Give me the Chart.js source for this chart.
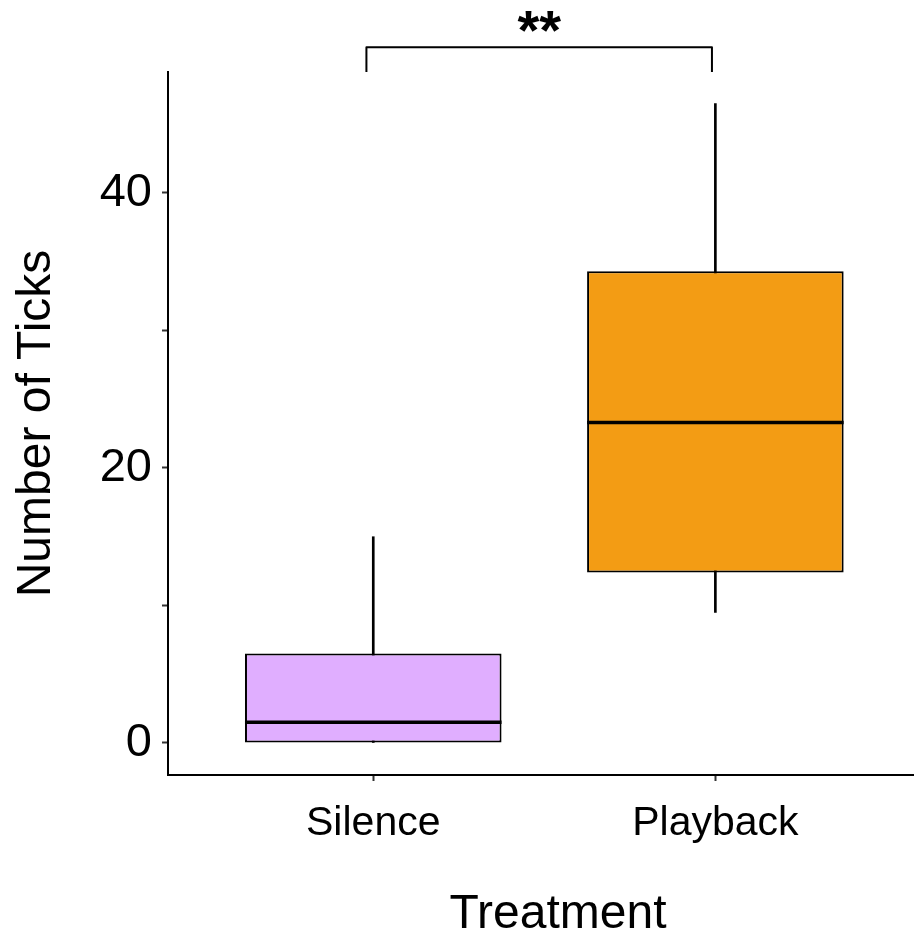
<!DOCTYPE html>
<html>
<head>
<meta charset="utf-8">
<title>Number of Ticks by Treatment</title>
<script src="https://cdn.jsdelivr.net/npm/chart.js@4/dist/chart.umd.min.js"></script>
<style>
  html, body { margin: 0; padding: 0; background: #fff; }
  canvas { display: block; }
</style>
</head>
<body>
<canvas id="boxChart" width="914" height="939"></canvas>
<script>
// Box plot summary
const categories = ['Silence', 'Playback'];
const xPositions = [1, 2];
const whiskerLow = [0, 9.5];
const q1 = [0, 12.4];
const median = [1.5, 23.3];
const q3 = [6.5, 34.3];
const whiskerHigh = [15, 46.5];
const boxColors = ['#E0AEFF', '#F39C14'];

// y axis
const yTicks = [0, 10, 20, 30, 40];
const yLabels = [0, 20, 40];

// significance bracket
const bracketX = [0.98, 1.99];
const bracketTop = 50.6;
const bracketFoot = 48.8;
const bracketText = '**';
const bracketTextY = 51.6;

const FONT = "'Liberation Sans', Arial, Helvetica, sans-serif";
const PANEL_OVERHANG = 34; // original figure is cropped: panel runs past right edge

// let the x panel run past the canvas edge, like the cropped original
const overhang = {
  id: 'overhang',
  afterLayout(chart) {
    const xs = chart.scales.x;
    xs.right += PANEL_OVERHANG;
    xs.width += PANEL_OVERHANG;
    chart.chartArea.right += PANEL_OVERHANG;
    chart.chartArea.width += PANEL_OVERHANG;
    xs.configure();
  }
};

// draw median bars + significance bracket on top of boxes
const boxExtras = {
  id: 'boxExtras',
  afterDatasetsDraw(chart) {
    const ctx = chart.ctx;
    const xs = chart.scales.x, ys = chart.scales.y;
    const meta = chart.getDatasetMeta(1);
    ctx.save();
    ctx.strokeStyle = '#000';
    ctx.lineWidth = 3.5;
    meta.data.forEach((bar, i) => {
      const y = ys.getPixelForValue(median[i]);
      ctx.beginPath();
      ctx.moveTo(bar.x - bar.width / 2, y);
      ctx.lineTo(bar.x + bar.width / 2, y);
      ctx.stroke();
    });

    // bracket
    const xa = xs.getPixelForValue(bracketX[0]);
    const xb = xs.getPixelForValue(bracketX[1]);
    const yt = ys.getPixelForValue(bracketTop);
    const yf = ys.getPixelForValue(bracketFoot);
    ctx.lineWidth = 2;
    ctx.lineJoin = 'round';
    ctx.beginPath();
    ctx.moveTo(xa, yf);
    ctx.lineTo(xa, yt);
    ctx.lineTo(xb, yt);
    ctx.lineTo(xb, yf);
    ctx.stroke();
    ctx.fillStyle = '#000';
    ctx.font = 'bold 56px ' + FONT;
    ctx.textAlign = 'center';
    ctx.textBaseline = 'middle';
    ctx.fillText(bracketText, (xa + xb) / 2, ys.getPixelForValue(bracketTextY));
    ctx.restore();
  }
};

const ctx = document.getElementById('boxChart').getContext('2d');
new Chart(ctx, {
  type: 'bar',
  data: {
    labels: categories,
    datasets: [
      {
        // whiskers
        data: xPositions.map((x, i) => ({ x: x, y: [whiskerLow[i], whiskerHigh[i]] })),
        backgroundColor: '#000',
        borderWidth: 0,
        barThickness: 2,
        grouped: false,
        order: 2
      },
      {
        // boxes
        data: xPositions.map((x, i) => ({ x: x, y: [q1[i], q3[i]] })),
        backgroundColor: boxColors,
        borderColor: '#000',
        borderWidth: 2,
        borderSkipped: false,
        barPercentage: 0.75,
        categoryPercentage: 1,
        grouped: false,
        order: 1
      }
    ]
  },
  options: {
    responsive: false,
    animation: false,
    layout: { padding: { top: 72, right: 0, left: 0, bottom: 0 } },
    plugins: {
      legend: { display: false },
      tooltip: { enabled: false }
    },
    scales: {
      x: {
        type: 'linear',
        min: 0.4,
        max: 2.68,
        offset: false,
        afterBuildTicks: s => { s.ticks = xPositions.map(v => ({ value: v })); },
        afterFit: s => { s.height = 164; },
        ticks: {
          autoSkip: false,
          maxRotation: 0,
          padding: 18,
          color: '#000',
          font: { family: FONT, size: 41 },
          callback: v => categories[xPositions.indexOf(v)] || ''
        },
        grid: { offset: false, drawOnChartArea: false, drawTicks: true, tickLength: 6, tickColor: '#333', tickWidth: 2 },
        border: { display: true, color: '#000', width: 2 },
        title: {
          display: true,
          text: 'Treatment',
          color: '#000',
          font: { family: FONT, size: 48, lineHeight: 1 },
          padding: { top: 0, bottom: 0 }
        }
      },
      y: {
        min: -2.33,
        max: 48.8,
        afterBuildTicks: s => { s.ticks = yTicks.map(v => ({ value: v })); },
        afterFit: s => { s.width = 168; },
        ticks: {
          padding: 10,
          color: '#000',
          font: { family: FONT, size: 47 },
          callback: v => (yLabels.includes(v) ? String(v) : '')
        },
        grid: { drawOnChartArea: false, drawTicks: true, tickLength: 6, tickColor: '#333', tickWidth: 2 },
        border: { display: true, color: '#000', width: 2 },
        title: {
          display: true,
          text: 'Number of Ticks',
          color: '#000',
          font: { family: FONT, size: 48, lineHeight: 1 },
          padding: { top: 13, bottom: 0 }
        }
      }
    }
  },
  plugins: [overhang, boxExtras]
});
</script>
</body>
</html>
